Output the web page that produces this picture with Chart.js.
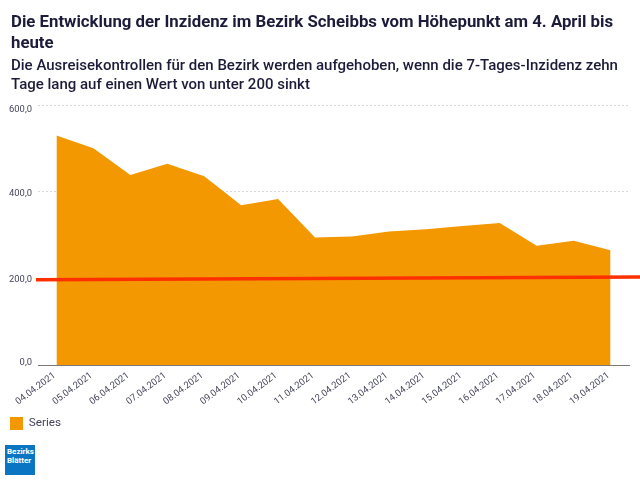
<!DOCTYPE html>
<html>
<head>
<meta charset="utf-8">
<script src="https://cdn.jsdelivr.net/npm/chart.js@4"></script>
<style>
  html, body { margin: 0; padding: 0; background: #fff; }
  #wrap { position: relative; width: 640px; height: 480px; overflow: hidden; font-family: Roboto, sans-serif; color: #1c1c3a; }
  #title { position: absolute; left: 11px; top: 10.5px; font-size: 16.8px; line-height: 21px; font-weight: bold; white-space: nowrap; }
  #subtitle { position: absolute; left: 11px; top: 55.5px; font-size: 15px; line-height: 19px; font-weight: 500; white-space: nowrap; }
  #logo {
    position: absolute; left: 5px; top: 445px; width: 30px; height: 30px;
    background: #0a75c2; color: #fff; font: bold 8px/9px "Liberation Sans Narrow", Roboto, sans-serif;
    padding: 2px 0 0 2px; box-sizing: border-box;
  }
</style>
</head>
<body>
<div id="wrap">
  <canvas id="incidenceChart" width="640" height="480"></canvas>
  <div id="title"></div>
  <div id="subtitle"></div>
  <div id="logo">Bezirks<br>Blätter</div>
</div>
<script>
var dates = ['04.04.2021', '05.04.2021', '06.04.2021', '07.04.2021', '08.04.2021', '09.04.2021', '10.04.2021', '11.04.2021',
  '12.04.2021', '13.04.2021', '14.04.2021', '15.04.2021', '16.04.2021', '17.04.2021', '18.04.2021', '19.04.2021'];
var incidence = [529.5, 500, 438.5, 464.7, 435.5, 368.4, 383, 294, 296.7, 308, 313, 320.6, 327.5, 275, 286.7, 265];

// red limit line, runs past the plot on both sides
var limitPositions = [-0.555, 15.8];
var limitValues = [196.5, 202.8];

var titleLines = ['Die Entwicklung der Inzidenz im Bezirk Scheibbs vom Höhepunkt am 4. April bis', 'heute'];
var subtitleLines = ['Die Ausreisekontrollen für den Bezirk werden aufgehoben, wenn die 7-Tages-Inzidenz zehn', 'Tage lang auf einen Wert von unter 200 sinkt'];

var tickColor = '#44445a';

document.getElementById('title').innerHTML = titleLines.join('<br>');
document.getElementById('subtitle').innerHTML = subtitleLines.join('<br>');

Chart.defaults.animation = false;

var ctx = document.getElementById('incidenceChart').getContext('2d');
var incidenceChart = new Chart(ctx, {
  type: 'line',
  data: {
    labels: dates,
    datasets: [{
      label: 'Limit',
      data: limitPositions.map(function(x, i) { return { x: x, y: limitValues[i] }; }),
      xAxisID: 'limitX',
      borderColor: '#ff3000',
      borderWidth: 3.5,
      pointRadius: 0,
      fill: false,
      clip: false,
      order: 0
    }, {
      label: 'Series',
      data: incidence,
      borderWidth: 0,
      borderColor: '#f39800',
      backgroundColor: '#f39800',
      pointRadius: 0,
      tension: 0,
      fill: 'origin',
      order: 1
    }]
  },
  options: {
    responsive: false,
    layout: { padding: { left: 0, right: 11, top: 105, bottom: 40 } },
    scales: {
      x: {
        offset: true,
        grid: { display: false },
        border: { display: true, color: '#7a7a7a', width: 1, z: 1 },
        afterFit: function(scale) { scale.height = 42; },
        ticks: {
          autoSkip: false,
          minRotation: 37,
          maxRotation: 37,
          padding: -3,
          labelOffset: -2,
          color: tickColor,
          font: { family: 'Roboto', size: 9.4 }
        }
      },
      limitX: { type: 'linear', display: false, min: -0.5, max: 15.5 },
      y: {
        min: 0,
        max: 600,
        afterFit: function(scale) { scale.width = 38; },
        grid: { color: '#d9d9d9', tickLength: 0 },
        border: { display: false, dash: [2, 2] },
        ticks: {
          stepSize: 200,
          padding: 6,
          labelOffset: 1.5,
          color: tickColor,
          font: { family: 'Roboto', size: 9.4, lineHeight: '7px' },
          callback: function(value) {
            var text = value.toFixed(1).replace('.', ',');
            // end labels sit just inside the plot
            if (value === 600) return ['', text];
            if (value === 0) return [text, ''];
            return text;
          }
        }
      }
    },
    plugins: {
      title: { display: false },
      legend: {
        position: 'bottom',
        align: 'start',
        labels: {
          boxWidth: 13,
          boxHeight: 13,
          color: tickColor,
          font: { family: 'Roboto', size: 11.7 },
          filter: function(item) { return item.text === 'Series'; }
        }
      },
      tooltip: { enabled: false }
    }
  }
});
</script>
</body>
</html>
